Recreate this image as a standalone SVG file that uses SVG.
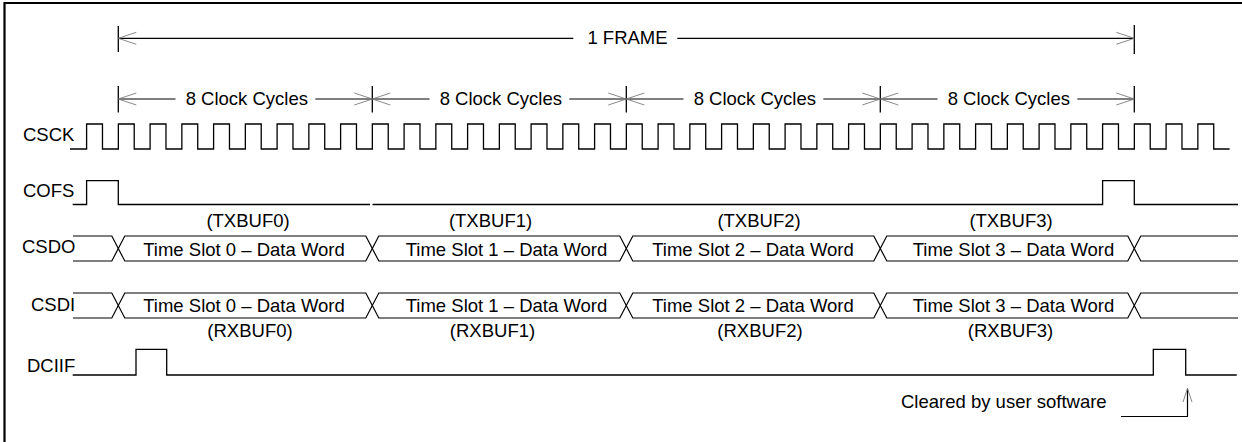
<svg xmlns="http://www.w3.org/2000/svg" width="1242" height="442" viewBox="0 0 1242 442">
<style>
  .bg{fill:#ffffff}
  .border{fill:none;stroke:#000;stroke-width:2.2}
  .wave{fill:none;stroke:#000;stroke-width:1.3;stroke-linejoin:miter}
  .bus{fill:none;stroke:#000;stroke-width:1.2}
  .dim{fill:none;stroke:#000;stroke-width:1.2}
  .tick{fill:none;stroke:#000;stroke-width:1.3}
  .wing{fill:none;stroke:#7a7a7a;stroke-width:0.9}
  text{font-family:"Liberation Sans",Arial,Helvetica,sans-serif;font-size:18.5px;fill:#000}
  .mid{text-anchor:middle}
</style>
<rect class="bg" x="0" y="0" width="1242" height="442"/>
<path class="border" d="M4.5 450 V3 H1250"/>

<g id="connectors">
  <g id="dim-frame">
    <path class="tick" d="M118.3 26 V52 M1134.3 25 V54"/>
    <path class="dim" d="M118.3 38.3 H573.3 M677.3 38.3 H1134.3"/>
    <path class="wing" d="M136.3 32.3 L118.3 38.3 L136.3 44.3 M1116.3 32.3 L1134.3 38.3 L1116.3 44.3"/>
  </g>
  <g id="dim-cycles">
    <path class="tick" d="M118.3 86 V112.5 M372.3 86 V112.5 M626.3 86 V112.5 M880.3 86 V112.5 M1134.3 86 V112.5"/>
    <path class="dim" d="M118.3 99 H175.5 M315.3 99 H372.3 M372.3 99 H429.5 M569.3 99 H626.3 M626.3 99 H683.5 M823.3 99 H880.3 M880.3 99 H937.5 M1077.3 99 H1134.3"/>
    <path class="wing" d="M136.3 93 L118.3 99 L136.3 105 M354.3 93 L372.3 99 L354.3 105 M390.3 93 L372.3 99 L390.3 105 M608.3 93 L626.3 99 L608.3 105 M644.3 93 L626.3 99 L644.3 105 M862.3 93 L880.3 99 L862.3 105 M898.3 93 L880.3 99 L898.3 105 M1116.3 93 L1134.3 99 L1116.3 105"/>
  </g>
  <g id="arrow-cleared">
    <path class="dim" d="M1121 416.5 H1187.5 V388.5"/>
    <path class="wing" d="M1183 402 L1187.5 388.5 L1192 402"/>
  </g>
</g>

<g id="label-frame"><text class="mid" x="627.5" y="44">1 FRAME</text></g>
<g id="label-cycles">
  <text class="mid" x="246.8" y="104.5">8 Clock Cycles</text>
  <text class="mid" x="500.8" y="104.5">8 Clock Cycles</text>
  <text class="mid" x="754.8" y="104.5">8 Clock Cycles</text>
  <text class="mid" x="1008.8" y="104.5">8 Clock Cycles</text>
</g>

<g id="sig-csck">
  <text x="23" y="141">CSCK</text>
  <path class="wave" d="M70 149 H86.6
  v-25h15.875v25h15.875 v-25h15.875v25h15.875 v-25h15.875v25h15.875 v-25h15.875v25h15.875 v-25h15.875v25h15.875 v-25h15.875v25h15.875
  v-25h15.875v25h15.875 v-25h15.875v25h15.875 v-25h15.875v25h15.875 v-25h15.875v25h15.875 v-25h15.875v25h15.875 v-25h15.875v25h15.875
  v-25h15.875v25h15.875 v-25h15.875v25h15.875 v-25h15.875v25h15.875 v-25h15.875v25h15.875 v-25h15.875v25h15.875 v-25h15.875v25h15.875
  v-25h15.875v25h15.875 v-25h15.875v25h15.875 v-25h15.875v25h15.875 v-25h15.875v25h15.875 v-25h15.875v25h15.875 v-25h15.875v25h15.875
  v-25h15.875v25h15.875 v-25h15.875v25h15.875 v-25h15.875v25h15.875 v-25h15.875v25h15.875 v-25h15.875v25h15.875 v-25h15.875v25h15.875
  v-25h15.875v25h15.875 v-25h15.875v25h15.875 v-25h15.875v25h15.875 v-25h15.875v25h15.875 v-25h15.875v25h15.875 v-25h15.875v25h15.875"/>
</g>

<g id="sig-cofs">
  <text x="23" y="197">COFS</text>
  <path class="wave" d="M72.7 204.5 H86.6 V180.7 H118.3 V204.5 H370"/>
  <path class="wave" d="M372.5 204.5 H1102.6 V180.7 H1134.3 V204.5 H1238"/>
</g>

<g id="sig-csdo">
  <text x="22" y="253">CSDO</text>
  <path class="bus" d="M73 236 H111.8 L124.8 261 H365.8 L378.8 236 H619.8 L632.8 261 H873.8 L886.8 236 H1127.8 L1140.8 261 H1238"/>
  <path class="bus" d="M73 261 H111.8 L124.8 236 H365.8 L378.8 261 H619.8 L632.8 236 H873.8 L886.8 261 H1127.8 L1140.8 236 H1238"/>
  <text class="mid" x="248" y="227">(TXBUF0)</text>
  <text class="mid" x="490.5" y="227">(TXBUF1)</text>
  <text class="mid" x="759" y="227">(TXBUF2)</text>
  <text class="mid" x="1011" y="227">(TXBUF3)</text>
  <text class="mid" x="244" y="256">Time Slot 0 – Data Word</text>
  <text class="mid" x="506.5" y="256">Time Slot 1 – Data Word</text>
  <text class="mid" x="753" y="256">Time Slot 2 – Data Word</text>
  <text class="mid" x="1013.5" y="256">Time Slot 3 – Data Word</text>
</g>

<g id="sig-csdi">
  <text x="31" y="311">CSDI</text>
  <path class="bus" d="M73 293 H111.8 L124.8 318 H365.8 L378.8 293 H619.8 L632.8 318 H873.8 L886.8 293 H1127.8 L1140.8 318 H1238"/>
  <path class="bus" d="M73 318 H111.8 L124.8 293 H365.8 L378.8 318 H619.8 L632.8 293 H873.8 L886.8 318 H1127.8 L1140.8 293 H1238"/>
  <text class="mid" x="244" y="312">Time Slot 0 – Data Word</text>
  <text class="mid" x="506.5" y="312">Time Slot 1 – Data Word</text>
  <text class="mid" x="753" y="312">Time Slot 2 – Data Word</text>
  <text class="mid" x="1013.5" y="312">Time Slot 3 – Data Word</text>
  <text class="mid" x="250" y="337">(RXBUF0)</text>
  <text class="mid" x="492.5" y="337">(RXBUF1)</text>
  <text class="mid" x="760" y="337">(RXBUF2)</text>
  <text class="mid" x="1010.5" y="337">(RXBUF3)</text>
</g>

<g id="sig-dciif">
  <text x="27" y="372">DCIIF</text>
  <path class="wave" d="M72.7 375 H136 V349.3 H166.7 V375 H1153.3 V349.3 H1185.7 V375 H1236.7"/>
</g>

<g id="note-cleared">
  <text x="901" y="408">Cleared by user software</text>
</g>
</svg>
